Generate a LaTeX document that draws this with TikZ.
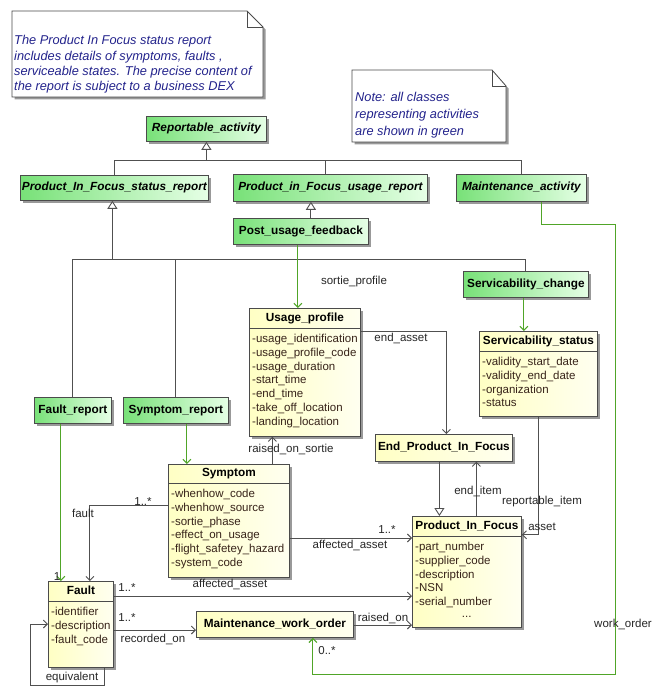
\documentclass[tikz,border=0pt]{standalone}
\usepackage{fontspec}
\setmainfont{Liberation Sans}
\usetikzlibrary{arrows.meta,calc,shadows}
\definecolor{gL}{RGB}{120,225,120}
\definecolor{gR}{RGB}{230,255,230}
\definecolor{yL}{RGB}{255,255,196}
\definecolor{yR}{RGB}{255,255,240}
\definecolor{bd}{RGB}{75,75,75}
\definecolor{ln}{RGB}{80,80,80}
\definecolor{gln}{RGB}{80,165,40}
\definecolor{notetxt}{RGB}{35,35,140}
\definecolor{attrc}{RGB}{55,35,25}
\tikzset{
 shad/.style={drop shadow={shadow xshift=2.5pt,shadow yshift=-2.5pt,fill=black!40,opacity=1}},
 gbox/.style={shad, draw=bd, line width=0.8pt, left color=gL, right color=gR, inner sep=0pt, anchor=north west,
   font=\fontsize{11.8}{13}\selectfont\bfseries, text height=8.6pt, text depth=2.6pt},
 abox/.style={gbox, font=\fontsize{11.8}{13}\selectfont\bfseries\itshape},
 ybox/.style={shad, draw=bd, line width=0.8pt, left color=yL, right color=yR, inner sep=0pt, anchor=north west},
 ysbox/.style={ybox, font=\fontsize{11.8}{13}\selectfont\bfseries, text height=8.6pt, text depth=2.6pt},
 ytitle/.style={font=\fontsize{11.8}{13}\selectfont\bfseries, inner sep=0pt, text height=8.6pt, text depth=2.6pt},
 attr/.style={font=\fontsize{11.5}{13.8}\selectfont, align=left, inner sep=0pt, anchor=north west, text=attrc},
 lbl/.style={font=\fontsize{11.5}{13}\selectfont, inner sep=0pt, text=black!85},
 notebox/.style={shad, draw=bd, line width=0.8pt, fill=white},
 notetext/.style={font=\fontsize{12.8}{15.3}\selectfont\itshape, align=left, inner sep=0pt, anchor=north west, text=notetxt},
 gen/.style={draw=ln, line width=0.9pt, -{Triangle[length=8pt,width=10pt,fill=white]}},
 assoc/.style={draw=ln, line width=0.9pt, -{Straight Barb[length=4pt,width=8pt]}},
 gassoc/.style={draw=gln, line width=1.1pt, -{Straight Barb[length=4pt,width=8pt]}},
 plain/.style={draw=ln, line width=0.9pt},
}
\newcommand\umlclass[8]{%
 \node[ybox, minimum width=#4pt, minimum height=#5pt] (#1) at (#2,#3) {};
 \node[ytitle] (#1-t) at ($(#1.north)+(0,#6/2)$) {#7};
 \draw[draw=bd, line width=0.8pt] ($(#1.north west)+(0,#6)$) -- ($(#1.north east)+(0,#6)$);
 \node[attr] (#1-a) at ($(#1.north west)+(3,#6+6)$) {#8};
}
\begin{document}
\begin{tikzpicture}[x=1pt,y=-1pt]
\fill[white] (0,0) rectangle (665,695);
\useasboundingbox (0,0) rectangle (665,695);

% notes
\draw[notebox] (12,11) -- (247,11) -- (263,27) -- (263,97) -- (12,97) -- cycle;
\draw[draw=bd, line width=0.8pt] (247,11) -- (247,27) -- (263,27);
\node[notetext] (n1) at (14,35.3) {The Product In Focus status report\\includes details of symptoms, faults ,\\serviceable states. The precise content of\\the report is subject to a business DEX};
\draw[notebox] (352,70) -- (492,70) -- (506,86) -- (506,142) -- (352,142) -- cycle;
\draw[draw=bd, line width=0.8pt] (492,70) -- (492,86) -- (506,86);
\node[notetext, font=\fontsize{12.8}{17}\selectfont\itshape] (n2) at (355,92.3) {Note: all classes\\representing activities\\are shown in green};

% green classes
\node[abox, minimum width=120pt, minimum height=25pt] (ra) at (146,116) {Reportable\_activity};
\node[abox, minimum width=188pt, minimum height=25pt] (sr) at (20,175) {Product\_In\_Focus\_status\_report};
\node[abox, minimum width=194pt, minimum height=27pt] (ur) at (233,174) {Product\_in\_Focus\_usage\_report};
\node[abox, minimum width=130pt, minimum height=27pt] (ma) at (456,174) {Maintenance\_activity};
\node[gbox, minimum width=135pt, minimum height=26pt] (puf) at (233,218) {Post\_usage\_feedback};
\node[gbox, minimum width=125pt, minimum height=26pt] (sc) at (463,271) {Servicability\_change};
\node[gbox, minimum width=77pt, minimum height=26pt] (fr) at (34,397) {Fault\_report};
\node[gbox, minimum width=105pt, minimum height=26pt] (symr) at (123,397) {Symptom\_report};

% yellow classes
\node[ysbox, minimum width=137pt, minimum height=27pt] (epif) at (375,434) {End\_Product\_In\_Focus};
\node[ysbox, minimum width=157pt, minimum height=26pt] (mwo) at (196,611) {Maintenance\_work\_order};
\umlclass{up}{249}{308}{111}{128}{20}{Usage\_profile}{-usage\_identification\\-usage\_profile\_code\\-usage\_duration\\-start\_time\\-end\_time\\-take\_off\_location\\-landing\_location}
\umlclass{ss}{479}{331}{118}{85}{20}{Servicability\_status}{-validity\_start\_date\\-validity\_end\_date\\-organization\\-status}
\umlclass{sym}{168}{464}{121}{113}{19}{Symptom}{-whenhow\_code\\-whenhow\_source\\-sortie\_phase\\-effect\_on\_usage\\-flight\_safetey\_hazard\\-system\_code}
\umlclass{pif}{412}{516}{109}{111}{20}{Product\_In\_Focus}{-part\_number\\-supplier\_code\\-description\\-NSN\\-serial\_number\\[-2pt]\makebox[103pt][c]{...}}
\umlclass{flt}{48}{581}{65}{86}{20}{Fault}{-identifier\\-description\\-fault\_code}

% generalizations
\coordinate (h1) at ($(ra.south)+(0,19)$);
\draw[gen] (h1) -- (ra.south);
\draw[plain] (sr.north) |- (h1);
\draw[plain] ([xshift=-5pt]ur.north) |- (h1);
\draw[plain] (ma.north) |- (h1);
\coordinate (pg) at ([xshift=10pt]puf.north);
\draw[gen] (pg) -- (pg |- ur.south);
\coordinate (h2) at ($(sr.south)+(-2,59)$);
\draw[gen] (h2) -- (h2 |- sr.south);
\draw[plain] (fr.north) |- (h2);
\draw[plain] (symr.north) |- (h2);
\draw[plain] (sc.north) |- (h2);
\coordinate (eg) at ([xshift=-4.5pt]epif.south);
\draw[gen] (eg) -- (eg |- pif.north);

% green associations
\coordinate (pa) at ([xshift=-3pt]puf.south);
\draw[gassoc] (pa) -- (pa |- up.north);
\coordinate (sca) at ([xshift=-2pt]sc.south);
\draw[gassoc] (sca) -- (sca |- ss.north);
\coordinate (fra) at ([xshift=-12pt]fr.south);
\draw[gassoc] (fra) -- (fra |- flt.north);
\coordinate (sra) at ([xshift=11pt]symr.south);
\draw[gassoc] (sra) -- (sra |- sym.north);
\coordinate (wo0) at ($(ma.south)+(20.5,0)$);
\coordinate (wo1) at ($(wo0)+(0,22.5)$);
\coordinate (wo2) at ($(wo1)+(74,0)$);
\coordinate (wo3) at ($(wo2)+(0,450)$);
\coordinate (woend) at ([xshift=38pt]mwo.south);
\draw[gassoc] (wo0) -- (wo1) -- (wo2) -- (wo3) -| (woend);

% associations
\coordinate (ros) at ([xshift=43.5pt]sym.north);
\draw[assoc] (ros) -- (ros |- up.south);
\coordinate (ea) at ($(up.north east)+(0,23)$);
\draw[assoc] (ea) -| ([xshift=2.5pt]epif.north);
\coordinate (fs) at ($(sym.north west)+(0,41)$);
\draw[assoc] (fs) -| ([xshift=9pt]flt.north);
\coordinate (sa) at ($(sym.north east)+(0,74)$);
\draw[assoc] (sa) -- (sa -| pif.west);
\coordinate (fa) at ($(flt.north east)+(0,15)$);
\draw[assoc] (fa) -- (fa -| pif.west);
\coordinate (ro) at ($(flt.north east)+(0,49)$);
\draw[assoc] (ro) -- (ro -| mwo.west);
\coordinate (rn) at ($(mwo.north east)+(0,14)$);
\draw[assoc] (rn) -- (rn -| pif.west);
\coordinate (ei) at ([xshift=9.5pt]pif.north);
\draw[assoc] (ei) -- (ei |- epif.south);
\coordinate (ri2) at ($(ss.south)+(0,118)$);
\draw[assoc] (ss.south) -- (ri2) -- (ri2 -| pif.east);
\coordinate (eq1) at ([xshift=23.5pt]flt.south);
\coordinate (eq2) at ($(eq1)+(0,18)$);
\coordinate (eq3) at ($(flt.north west)+(-18,43)$);
\draw[assoc] (eq1) -- (eq2) -| (eq3) -- (eq3 -| flt.west);

% labels
\node[lbl] (l1) at (354,282) {sortie\_profile};
\node[lbl] (l2) at (401,338) {end\_asset};
\node[lbl] (l3) at (542,502) {reportable\_item};
\node[lbl] (l4) at (542,527) {asset};
\node[lbl] (l5) at (478,491) {end\_item};
\node[lbl] (l6) at (291,449) {raised\_on\_sortie};
\node[lbl] (l7) at (143,502) {1..*};
\node[lbl] (l8) at (83,513) {fault};
\node[lbl] (l9) at (387,530) {1..*};
\node[lbl] (l10) at (350,545) {affected\_asset};
\node[lbl] (l11) at (127,588) {1..*};
\node[lbl] (l12) at (230,584) {affected\_asset};
\node[lbl] (l13) at (127,618) {1..*};
\node[lbl] (l14) at (153,639) {recorded\_on};
\node[lbl] (l15) at (383,618) {raised\_on};
\node[lbl] (l16) at (327,651) {0..*};
\node[lbl] (l17) at (623,624) {work\_order};
\node[lbl] (l18) at (72,678) {equivalent};
\node[lbl] (l19) at (57,577) {1};
\end{tikzpicture}
\end{document}
